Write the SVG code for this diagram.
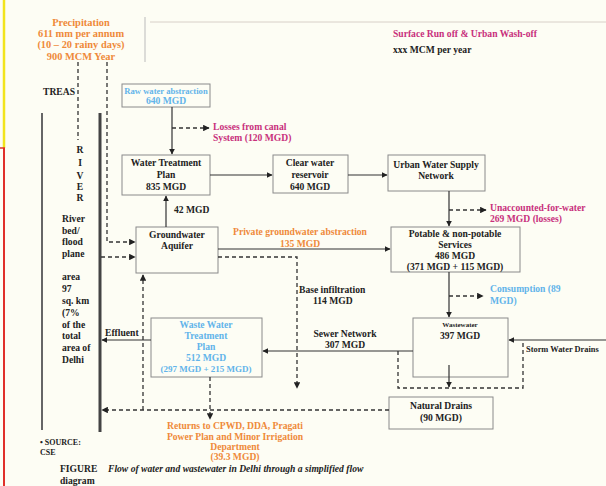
<svg xmlns="http://www.w3.org/2000/svg" width="606" height="486" viewBox="0 0 606 486">
<style>
text{font-family:"Liberation Serif","Times New Roman",serif;font-size:9.6px;font-weight:bold;fill:#222}
.c{text-anchor:middle}
.or{fill:#ef8a3a}
.mg{fill:#c8307c}
.bl{fill:#62b4ea}
.box{fill:none;stroke:#8a8a8a;stroke-width:1}
.ln{fill:none;stroke:#333;stroke-width:1.2}
.ds{fill:none;stroke:#333;stroke-width:1.3;stroke-dasharray:4 3}
</style>
<defs>
<marker id="ar" viewBox="0 0 10 10" refX="9" refY="5" markerWidth="5" markerHeight="5" orient="auto">
<path d="M0,0 L10,5 L0,10 z" fill="#222"/>
</marker>
</defs>
<rect width="606" height="486" fill="#fdfdf4"/>
<line x1="4" y1="0" x2="4" y2="148" stroke="#f2e41c" stroke-width="2.5"/>
<line x1="4" y1="148" x2="4" y2="486" stroke="#e0302a" stroke-width="2"/>
<line x1="0" y1="148" x2="5" y2="148" stroke="#e0302a" stroke-width="1.5"/>
<line x1="145" y1="17" x2="145" y2="62" stroke="#bbb" stroke-width="1"/>
<line x1="150" y1="22" x2="606" y2="22" stroke="#d8d0c8" stroke-width="1"/>

<g id="precipitation">
<text class="c or" x="81" y="26" style="font-size:10.4px">Precipitation</text>
<text class="c or" x="81" y="37" style="font-size:10.4px">611 mm per annum</text>
<text class="c or" x="81" y="48" style="font-size:10.4px">(10 – 20 rainy days)</text>
<text class="c or" x="81" y="60" style="font-size:10.4px">900 MCM Year</text>
</g>
<g id="runoff">
<text class="mg" x="393" y="37">Surface Run off &amp; Urban Wash-off</text>
<text x="393" y="53">xxx MCM per year</text>
</g>
<g id="river">
<text x="43" y="95">TREAS</text>
<text class="c" x="80" y="153">R</text>
<text class="c" x="80" y="166">I</text>
<text class="c" x="80" y="179">V</text>
<text class="c" x="80" y="190">E</text>
<text class="c" x="80" y="201">R</text>
<text x="62" y="222">River</text>
<text x="62" y="234">bed/</text>
<text x="62" y="245">flood</text>
<text x="62" y="257">plane</text>
<text x="62" y="280">area</text>
<text x="62" y="292">97</text>
<text x="62" y="304">sq. km</text>
<text x="62" y="316">(7%</text>
<text x="62" y="328">of the</text>
<text x="62" y="339">total</text>
<text x="62" y="351">area of</text>
<text x="62" y="363">Delhi</text>
<line x1="42" y1="113" x2="42" y2="430" stroke="#666" stroke-width="2"/>
<line x1="100" y1="113" x2="100" y2="432" stroke="#444" stroke-width="3"/>
</g>
<g id="raw">
<rect class="box" x="122" y="84" width="88" height="23"/>
<text class="c bl" x="166" y="94" style="font-size:8.6px">Raw water abstraction</text>
<text class="c bl" x="166" y="104">640 MGD</text>
</g>
<g id="canal">
<text class="mg" x="213" y="130">Losses from canal</text>
<text class="mg" x="213" y="141">System (120 MGD)</text>
</g>
<g id="wtp">
<rect class="box" x="122" y="155" width="88" height="40"/>
<text class="c" x="166" y="166">Water Treatment</text>
<text class="c" x="166" y="178">Plan</text>
<text class="c" x="166" y="190">835 MGD</text>
</g>
<g id="cwr">
<rect class="box" x="273" y="155" width="75" height="38"/>
<text class="c" x="310" y="166">Clear water</text>
<text class="c" x="310" y="178">reservoir</text>
<text class="c" x="310" y="190">640 MGD</text>
</g>
<g id="uwsn">
<rect class="box" x="388" y="155" width="97" height="36"/>
<text class="c" x="436" y="168">Urban Water Supply</text>
<text class="c" x="436" y="179">Network</text>
</g>
<g id="ufw">
<text class="mg" x="490" y="211">Unaccounted-for-water</text>
<text class="mg" x="490" y="222">269 MGD (losses)</text>
</g>
<g id="aquifer">
<rect class="box" x="136" y="227" width="82" height="46"/>
<text class="c" x="177" y="238">Groundwater</text>
<text class="c" x="177" y="249">Aquifer</text>
</g>
<g id="pvt">
<text class="c or" x="300" y="235">Private groundwater abstraction</text>
<text class="c or" x="300" y="246.5">135 MGD</text>
</g>
<g id="potable">
<rect class="box" x="391" y="227" width="129" height="45"/>
<text class="c" x="455" y="237">Potable &amp; non-potable</text>
<text class="c" x="455" y="248">Services</text>
<text class="c" x="455" y="259">486 MGD</text>
<text class="c" x="455" y="270">(371 MGD + 115 MGD)</text>
</g>
<g id="consumption">
<text class="bl" x="490" y="292">Consumption (89</text>
<text class="bl" x="490" y="304">MGD)</text>
</g>
<g id="infiltration">
<text x="299" y="293">Base infiltration</text>
<text x="313" y="304">114 MGD</text>
</g>
<g id="sewer">
<text class="c" x="345" y="337">Sewer Network</text>
<text class="c" x="345" y="348">307 MGD</text>
</g>
<g id="wwtp">
<rect class="box" x="151" y="318" width="111" height="59"/>
<text class="c bl" x="206" y="328">Waste Water</text>
<text class="c bl" x="206" y="339">Treatment</text>
<text class="c bl" x="206" y="350">Plan</text>
<text class="c bl" x="206" y="361">512 MGD</text>
<text class="c bl" x="206" y="372" style="font-size:9px">(297 MGD + 215 MGD)</text>
</g>
<g id="effluent">
<text x="105" y="336">Effluent</text>
</g>
<g id="wastewater">
<rect class="box" x="413" y="318" width="95" height="59"/>
<text class="c" x="460" y="327" style="font-size:7px">Wastewater</text>
<text class="c" x="460" y="339">397 MGD</text>
</g>
<g id="storm">
<text x="526" y="352" style="font-size:8.4px">Storm Water Drains</text>
</g>
<g id="drains">
<rect class="box" x="389" y="397" width="104" height="32"/>
<text class="c" x="441" y="409">Natural Drains</text>
<text class="c" x="441" y="421">(90 MGD)</text>
</g>
<g id="returns">
<text class="c or" x="235" y="429">Returns to CPWD, DDA, Pragati</text>
<text class="c or" x="235" y="440">Power Plan and Minor Irrigation</text>
<text class="c or" x="235" y="450">Department</text>
<text class="c or" x="235" y="460">(39.3 MGD)</text>
</g>
<g id="source">
<text x="40" y="445" style="font-size:8px">• SOURCE:</text>
<text x="40" y="455" style="font-size:8px">CSE</text>
</g>
<g id="caption">
<text x="60" y="472">FIGURE</text>
<text x="108" y="472" style="font-style:italic">Flow of water and wastewater in Delhi through a simplified flow</text>
<text x="60" y="484">diagram</text>
</g>

<g id="connectors">
<path class="ds" d="M78,62 V140"/>
<path class="ds" d="M107,62 V242 H135" marker-end="url(#ar)"/>
<path class="ds" d="M101,257 H135" marker-end="url(#ar)"/>
<path class="ln" d="M172,107 V154" marker-end="url(#ar)"/>
<path class="ds" d="M172,128 H209" marker-end="url(#ar)"/>
<path class="ln" d="M210,175 H272" marker-end="url(#ar)"/>
<path class="ln" d="M348,175 H387" marker-end="url(#ar)"/>
<path class="ln" d="M449,191 V226" marker-end="url(#ar)"/>
<path class="ds" d="M449,210 H486" marker-end="url(#ar)"/>
<path class="ln" d="M166,227 V196" marker-end="url(#ar)"/>
<text x="174" y="213">42 MGD</text>
<path class="ln" d="M218,249 H390" marker-end="url(#ar)"/>
<path class="ds" d="M218,257 H297 V388" marker-end="url(#ar)"/>
<path class="ln" d="M449,272 V317" marker-end="url(#ar)"/>
<path class="ds" d="M449,296 H483" marker-end="url(#ar)"/>
<path class="ln" d="M413,351 H263" marker-end="url(#ar)"/>
<path class="ds" d="M398,351 V388 H523 V340"/>
<path class="ln" d="M606,340 H509" marker-end="url(#ar)"/>
<path class="ln" d="M449,365 V387" marker-end="url(#ar)"/>
<path class="ln" d="M151,340 H102" marker-end="url(#ar)"/>
<path class="ds" d="M210,377 V419" marker-end="url(#ar)"/>
<path class="ds" d="M389,410 H102" marker-end="url(#ar)"/>
<path class="ds" d="M143,410 V275" marker-end="url(#ar)"/>
</g>
</svg>
